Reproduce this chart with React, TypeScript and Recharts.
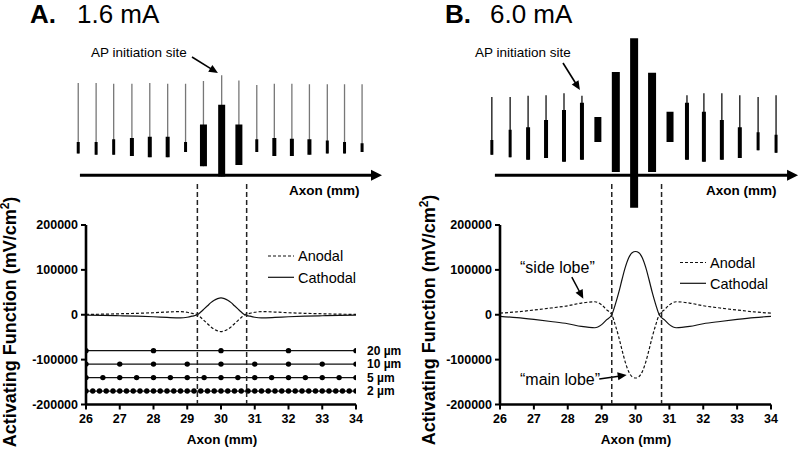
import React from 'react';
import { LineChart, Line, XAxis, YAxis, ReferenceLine } from 'recharts';

const FONT = '"Liberation Sans", Arial, Helvetica, sans-serif';

// ---------- activating function profiles (x in mm, y in mV/cm^2) ----------
const axonMm = [26, 26.5, 27, 27.5, 28, 28.4, 28.8, 29.0, 29.15, 29.3, 29.4, 29.5, 29.6, 29.7, 29.8, 29.9, 30, 30.1, 30.2, 30.3, 30.4, 30.5, 30.6, 30.7, 30.85, 31.0, 31.2, 31.6, 32, 32.5, 33, 33.5, 34];
const cathodalA = [-800, -1300, -2200, -3200, -4500, -6000, -7000, -5500, -3000, 0, 6000, 13000, 20000, 27000, 32500, 36000, 37500, 36000, 32500, 27000, 20000, 13000, 6000, 0, -3000, -5500, -7000, -6000, -4500, -3200, -2200, -1300, -800];
const anodalA = [800, 1300, 2200, 3200, 4500, 6000, 7000, 5500, 3000, 0, -6000, -13000, -20000, -27000, -32500, -36000, -37500, -36000, -32500, -27000, -20000, -13000, -6000, 0, 3000, 5500, 7000, 6000, 4500, 3200, 2200, 1300, 800];
const cathodalB = [-3500, -6500, -10500, -15000, -20000, -26000, -29000, -22000, -11000, 0, 22000, 48000, 78000, 106000, 127000, 138000, 141000, 138000, 127000, 106000, 78000, 48000, 22000, 0, -11000, -22000, -29000, -26000, -20000, -15000, -10500, -6500, -3500];
const anodalB = [3500, 6500, 10500, 15000, 20000, 26000, 29000, 22000, 11000, 0, -22000, -48000, -78000, -106000, -127000, -138000, -141000, -138000, -127000, -106000, -78000, -48000, -22000, 0, 11000, 22000, 29000, 26000, 20000, 15000, 10500, 6500, 3500];

const xTicks = [26, 27, 28, 29, 30, 31, 32, 33, 34];
const yTicks = [-200000, -100000, 0, 100000, 200000];

// ---------- node positions of fibres of different diameter (mm) ----------
const nodes20 = [26, 28, 30, 32, 34];
const nodes10 = [26, 27, 28, 29, 30, 31, 32, 33, 34];
const nodes5 = [26, 26.5, 27, 27.5, 28, 28.5, 29, 29.5, 30, 30.5, 31, 31.5, 32, 32.5, 33, 33.5, 34];
const nodes2 = [26, 26.2, 26.4, 26.6, 26.8, 27, 27.2, 27.4, 27.6, 27.8, 28, 28.2, 28.4, 28.6, 28.8, 29, 29.2, 29.4, 29.6, 29.8, 30, 30.2, 30.4, 30.6, 30.8, 31, 31.2, 31.4, 31.6, 31.8, 32, 32.2, 32.4, 32.6, 32.8, 33, 33.2, 33.4, 33.6, 33.8, 34];
const fiberNodes = [nodes20, nodes10, nodes5, nodes2];
const fiberRows = [-80000, -110000, -140000, -170000];
const fiberLabels = ['20 \u00b5m', '10 \u00b5m', '5 \u00b5m', '2 \u00b5m'];

// edges of the main lobe (mm)
const lobeEdgesA = [29.3, 30.76];
const lobeEdgesB = [29.3, 30.77];

// ---------- membrane potential traces along the axon (pos mm, potentials mV) ----------
const traceKindA = ['ap', 'ap', 'ap', 'mixed', 'mixed', 'mixed', 'ap', 'burst', 'burst', 'burst', 'ap', 'mixed', 'mixed', 'mixed', 'ap', 'ap', 'ap'];
const tracePosA = [25.77, 26.3, 26.82, 27.36, 27.89, 28.42, 28.95, 29.48, 30.02, 30.53, 31.06, 31.58, 32.1, 32.62, 33.15, 33.66, 34.18];
const tracePeakA = [30, 30, 29, 29, 30, 29, 29, 33, 42, 34, 27, 29, 29, 28, 28, 28, 28];
const traceTopA = [-62, -62, -58, -56, -54, -54, -62, -35, -4, -35, -58, -56, -57, -58, -60, -62, -64];
const traceBottomA = [-80, -82, -82, -84, -86, -86, -78, -100, -116, -98, -78, -84, -84, -82, -80, -80, -78];

const traceKindB = ['ap', 'ap', 'mixed', 'mixed', 'mixed', 'mixed', 'burst', 'block', 'block', 'block', 'burst', 'mixed', 'mixed', 'mixed', 'mixed', 'ap', 'ap'];
const tracePosB = [25.76, 26.3, 26.83, 27.36, 27.89, 28.42, 28.89, 29.42, 29.96, 30.49, 31.02, 31.52, 32.02, 32.55, 33.08, 33.62, 34.15];
const tracePeakB: (number | null)[] = [8, 8, 10, 11, 14, 10, null, null, null, null, null, 11, 14, 14, 11, 8, 11];
const traceTopB = [-59, -43, -39, -28, -12, -1, -23, 47, 100, 46, -15, -1, -15, -28, -39, -47, -51];
const traceBottomB = [-82, -86, -90, -87, -93, -90, -62, -109, -165, -109, -62, -90, -93, -90, -87, -75, -79];

// annotation arrows (data coordinates)
const apArrowA = [{ x: 29.14, y: 70.6 }, { x: 29.91, y: 45.6 }];
const apArrowB = [{ x: 27.86, y: 61.2 }, { x: 28.36, y: 19.1 }];
const axonArrowA = [{ x: 25.82, y: -114 }, { x: 34.77, y: -114 }];
const axonArrowB = [{ x: 25.85, y: -114 }, { x: 34.8, y: -114 }];
const sideLobeArrow = [{ x: 28.12, y: 84000 }, { x: 28.46, y: 35500 }];
const mainLobeArrow = [{ x: 28.93, y: -143000 }, { x: 29.74, y: -134300 }];

const blobWidth: Record<string, number> = { ap: 3, mixed: 4, burst: 7, block: 8 };

const rowsA = axonMm.map((x, i) => ({ x, anodal: anodalA[i], cathodal: cathodalA[i] }));
const rowsB = axonMm.map((x, i) => ({ x, anodal: anodalB[i], cathodal: cathodalB[i] }));

const tickStyle = { fill: '#000', fontSize: 12.5, fontWeight: 700, fontFamily: FONT };

function arrowShape(head: number, half: number) {
  return (p: any) => {
    const { x1, y1, x2, y2, stroke, strokeWidth } = p;
    const dx = x2 - x1;
    const dy = y2 - y1;
    const len = Math.hypot(dx, dy) || 1;
    const ux = dx / len;
    const uy = dy / len;
    const bx = x2 - ux * head;
    const by = y2 - uy * head;
    const px = -uy * half;
    const py = ux * half;
    return (
      <g>
        <line x1={x1} y1={y1} x2={bx + ux} y2={by + uy} stroke={stroke} strokeWidth={strokeWidth} />
        <polygon points={`${x2},${y2} ${bx + px},${by + py} ${bx - px},${by - py}`} fill={stroke} />
      </g>
    );
  };
}

function nodeDot(p: any) {
  const { cx, cy, payload, index } = p;
  const r = 2.7;
  if (cx == null || cy == null) return <g key={`d${index}`} />;
  if (payload && payload.x >= 34) {
    return <path key={`d${index}`} d={`M${cx},${cy - r} A${r},${r} 0 0 0 ${cx},${cy + r} Z`} fill="#000" />;
  }
  return <circle key={`d${index}`} cx={cx} cy={cy} r={r} fill="#000" />;
}

function TraceChart(props: {
  left: number; width: number; mLeft: number; mRight: number;
  kinds: string[]; pos: number[]; peak: (number | null)[]; top: number[]; bottom: number[];
  spikeColor: string; edges: number[]; apArrow: any[]; axonArrow: any[];
}) {
  const { left, width, mLeft, mRight, kinds, pos, peak, top, bottom, spikeColor, edges, apArrow, axonArrow } = props;
  return (
    <div style={{ position: 'absolute', left, top: 0 }}>
      <LineChart width={width} height={450} margin={{ top: 22.2, right: mRight, bottom: 43.8, left: mLeft }}>
        <XAxis dataKey="x" type="number" domain={[25, 35]} allowDataOverflow hide />
        <YAxis type="number" domain={[-475, 125]} allowDataOverflow hide />
        {edges.map((e) => (
          <ReferenceLine key={`e${e}`} segment={[{ x: e, y: -128 }, { x: e, y: -471 }]} stroke="#222" strokeWidth={1.5} strokeDasharray="5 3" />
        ))}
        {pos.map((p, i) =>
          peak[i] == null ? null : (
            <Line key={`s${i}`} data={[{ x: p, v: peak[i] }, { x: p, v: bottom[i] }]} dataKey="v" type="linear"
              stroke={spikeColor} strokeWidth={1.3} dot={false} isAnimationActive={false} />
          )
        )}
        {pos.map((p, i) => (
          <Line key={`b${i}`} data={[{ x: p, v: top[i] }, { x: p, v: bottom[i] }]} dataKey="v" type="linear"
            stroke="#000" strokeWidth={blobWidth[kinds[i]]} dot={false} isAnimationActive={false} />
        ))}
        <ReferenceLine segment={axonArrow} stroke="#000" strokeWidth={3} shape={arrowShape(11, 5.5)} />
        <ReferenceLine segment={apArrow} stroke="#000" strokeWidth={1.6} shape={arrowShape(9, 4)} />
      </LineChart>
    </div>
  );
}

function ProfileChart(props: { left: number; width: number; mLeft: number; mRight: number; rows: any[]; arrows?: any[][]; showFibers: boolean }) {
  const { left, width, mLeft, mRight, rows, arrows, showFibers } = props;
  return (
    <div style={{ position: 'absolute', left, top: 0 }}>
      <LineChart width={width} height={450} data={rows} margin={{ top: 225, right: mRight, bottom: 15.5, left: mLeft }}>
        <XAxis dataKey="x" type="number" domain={[26, 34]} ticks={xTicks} interval={0} allowDataOverflow height={30}
          axisLine={{ stroke: '#000', strokeWidth: 2.6 }} tickLine={{ stroke: '#000', strokeWidth: 2 }}
          tickSize={5} tickMargin={5} tick={tickStyle} />
        <YAxis type="number" domain={[-200000, 200000]} ticks={yTicks} interval={0} allowDataOverflow width={70}
          axisLine={{ stroke: '#000', strokeWidth: 2.6 }} tickLine={{ stroke: '#000', strokeWidth: 2 }}
          tickSize={5} tickMargin={3} tick={tickStyle} />
        <Line dataKey="anodal" type="monotone" stroke="#111" strokeWidth={1.2} strokeDasharray="3 2" dot={false} isAnimationActive={false} />
        <Line dataKey="cathodal" type="monotone" stroke="#111" strokeWidth={1.2} dot={false} isAnimationActive={false} />
        {showFibers &&
          fiberNodes.map((nodes, k) => (
            <Line key={`f${k}`} data={nodes.map((x) => ({ x, y: fiberRows[k] }))} dataKey="y" type="linear"
              stroke="#111" strokeWidth={1.2} dot={nodeDot} isAnimationActive={false}
              label={(p: any) => {
                const lx = p.x ?? p.viewBox?.x;
                const ly = p.y ?? p.viewBox?.y;
                if (p.index !== nodes.length - 1 || lx == null) return <g key={`l${p.index}`} />;
                return (
                  <text key={`l${p.index}`} x={lx + 11} y={ly} dy="0.36em" fontSize={12} fontWeight={700} fontFamily={FONT} fill="#000">
                    {fiberLabels[k]}
                  </text>
                );
              }} />
          ))}
        {(arrows || []).map((seg, i) => (
          <ReferenceLine key={`a${i}`} segment={seg} stroke="#000" strokeWidth={1.5} shape={arrowShape(9, 4)} />
        ))}
      </LineChart>
    </div>
  );
}

function LegendBox({ x, y1, y2 }: { x: number; y1: number; y2: number }) {
  return (
    <g>
      <line x1={x} x2={x + 26} y1={y1} y2={y1} stroke="#111" strokeWidth={1.2} strokeDasharray="3 2" />
      <text x={x + 30} y={y1 + 5.2} fontSize={14.5} fill="#000">Anodal</text>
      <line x1={x} x2={x + 26} y1={y2} y2={y2} stroke="#111" strokeWidth={1.2} />
      <text x={x + 30} y={y2 + 5.2} fontSize={14.5} fill="#000">Cathodal</text>
    </g>
  );
}

function YLabel({ x, y }: { x: number; y: number }) {
  return (
    <text transform={`translate(${x},${y}) rotate(-90)`} textAnchor="middle" fontSize={18} fontWeight={700} fill="#000">
      Activating Function (mV/cm<tspan dy={-7} fontSize={12}>2</tspan><tspan dy={7}>)</tspan>
    </text>
  );
}

export default function App() {
  return (
    <div style={{ position: 'absolute', left: 0, top: 0, width: 800, height: 450, background: '#fff', overflow: 'hidden', fontFamily: FONT }}>
      <ProfileChart left={0} width={420} mLeft={16} mRight={64} rows={rowsA} showFibers />
      <ProfileChart left={400} width={400} mLeft={30} mRight={29} rows={rowsB} showFibers={false} arrows={[sideLobeArrow, mainLobeArrow]} />
      <TraceChart left={0} width={400} mLeft={52.25} mRight={10.25} kinds={traceKindA} pos={tracePosA} peak={tracePeakA}
        top={traceTopA} bottom={traceBottomA} spikeColor="#777" edges={lobeEdgesA} apArrow={apArrowA} axonArrow={axonArrowA} />
      <TraceChart left={400} width={410} mLeft={66.1} mRight={5.15} kinds={traceKindB} pos={tracePosB} peak={tracePeakB}
        top={traceTopB} bottom={traceBottomB} spikeColor="#111" edges={lobeEdgesB} apArrow={apArrowB} axonArrow={axonArrowB} />
      <svg width={800} height={450} style={{ position: 'absolute', left: 0, top: 0, pointerEvents: 'none' }} fontFamily={FONT}>
        <text x={30} y={23} fontSize={26} fontWeight={700}>A.</text>
        <text x={77} y={23} fontSize={26}>1.6 mA</text>
        <text x={445} y={23} fontSize={26} fontWeight={700}>B.</text>
        <text x={490} y={23} fontSize={26}>6.0 mA</text>
        <text x={91} y={56.7} fontSize={13.5}>AP initiation site</text>
        <text x={475} y={56.7} fontSize={13.5}>AP initiation site</text>
        <text x={289} y={195} fontSize={13.5} fontWeight={700}>Axon (mm)</text>
        <text x={706} y={195} fontSize={13.5} fontWeight={700}>Axon (mm)</text>
        <text x={222} y={443.5} textAnchor="middle" fontSize={13.5} fontWeight={700}>Axon (mm)</text>
        <text x={636} y={443.5} textAnchor="middle" fontSize={13.5} fontWeight={700}>Axon (mm)</text>
        <YLabel x={16} y={322} />
        <YLabel x={435} y={320} />
        <LegendBox x={268} y1={256} y2={277.3} />
        <LegendBox x={680} y1={262.5} y2={283.3} />
        <text x={520} y={273.3} fontSize={16}>{'\u201cside lobe\u201d'}</text>
        <text x={520} y={385} fontSize={16}>{'\u201cmain lobe\u201d'}</text>
      </svg>
    </div>
  );
}
